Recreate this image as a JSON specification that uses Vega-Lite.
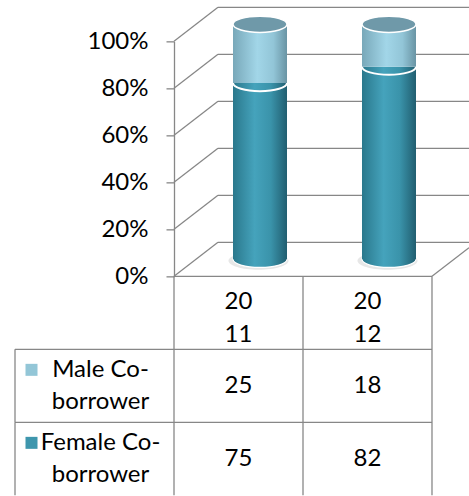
{
  "$schema": "https://vega.github.io/schema/vega-lite/v6.json",
  "autosize": {"type": "pad"},
  "padding": {"left": 14, "top": 6.35, "right": 0, "bottom": 0},
  "background": "white",
  "config": {
    "view": {"stroke": null},
    "font": "Lato",
    "text": {"font": "Lato", "fontSize": 24, "color": "#000000"}
  },
  "datasets": {
    "shares": [
      {"year": "2011", "series": "Male Co-borrower", "value": 25},
      {"year": "2011", "series": "Female Co-borrower", "value": 75},
      {"year": "2012", "series": "Male Co-borrower", "value": 18},
      {"year": "2012", "series": "Female Co-borrower", "value": 82}
    ],
    "levels": [{"pct": 0}, {"pct": 20}, {"pct": 40}, {"pct": 60}, {"pct": 80}, {"pct": 100}]
  },
  "columns": 2,
  "spacing": 0,
  "bounds": "flush",
  "concat": [
    {
      "width": 159,
      "height": 235,
      "data": {"values": [{}]},
      "mark": {"type": "text", "text": ""}
    },
    {
      "width": 258,
      "height": 235,
      "layer": [
        {
          "data": {"name": "levels"},
          "mark": {"type": "rule", "color": "#878787", "strokeWidth": 1.3, "xOffset": 44, "x2Offset": 37, "yOffset": -34},
          "encoding": {
            "y": {
              "field": "pct", "type": "quantitative",
              "scale": {"domain": [0, 100], "nice": false},
              "axis": {
                "values": [0, 20, 40, 60, 80, 100],
                "labelExpr": "datum.value + '%'",
                "title": null, "grid": false,
                "domain": true, "domainColor": "#878787", "domainWidth": 1.3,
                "ticks": true, "tickColor": "#878787", "tickWidth": 1.3, "tickSize": 8,
                "labelPadding": 18, "labelFont": "Lato", "labelFontSize": 24, "labelColor": "#000000"
              }
            },
            "x": {"datum": "2011", "type": "nominal", "bandPosition": 0,
                  "scale": {"type": "band", "domain": ["2011", "2012"], "paddingInner": 0, "paddingOuter": 0},
                  "axis": null},
            "x2": {"datum": "2012", "bandPosition": 1}
          }
        },
        {
          "data": {"name": "levels"},
          "mark": {"type": "rule", "color": "#878787", "strokeWidth": 1.3, "x2Offset": 44, "y2Offset": -34},
          "encoding": {
            "y": {"field": "pct", "type": "quantitative"},
            "y2": {"field": "pct"},
            "x": {"datum": "2011", "type": "nominal", "bandPosition": 0},
            "x2": {"datum": "2011", "bandPosition": 0}
          }
        },
        {
          "data": {"name": "levels"},
          "transform": [{"filter": "datum.pct == 0"}],
          "mark": {"type": "rule", "color": "#878787", "strokeWidth": 1.3, "x2Offset": 37, "y2Offset": -28.6},
          "encoding": {
            "y": {"field": "pct", "type": "quantitative"},
            "y2": {"field": "pct"},
            "x": {"datum": "2012", "type": "nominal", "bandPosition": 1},
            "x2": {"datum": "2012", "bandPosition": 1}
          }
        },
        {
          "data": {"name": "levels"},
          "transform": [{"filter": "datum.pct == 0"}],
          "mark": {"type": "rule", "color": "#878787", "strokeWidth": 1.3},
          "encoding": {
            "y": {"field": "pct", "type": "quantitative"},
            "x": {"datum": "2011", "type": "nominal", "bandPosition": 0},
            "x2": {"datum": "2012", "bandPosition": 1}
          }
        },
        {
          "data": {"name": "shares"},
          "transform": [
            {"stack": "value", "groupby": ["year"], "sort": [{"field": "series", "order": "ascending"}], "as": ["lo", "hi"]},
            {"filter": "datum.series == 'Female Co-borrower'"}
          ],
          "layer": [
            {
              "mark": {"type": "point", "shape": "M -1 0 C -1 -0.166 -0.552 -0.3 0 -0.3 C 0.552 -0.3 1 -0.166 1 0 C 1 0.166 0.552 0.3 0 0.3 C -0.552 0.3 -1 0.166 -1 0 Z",
                       "filled": true, "fill": "#a0a0a0", "opacity": 0.25, "size": 3600, "xOffset": 20, "yOffset": -15.5},
              "encoding": {
                "x": {"field": "year", "type": "nominal"},
                "y": {"field": "lo", "type": "quantitative"}
              }
            },
            {
              "mark": {"type": "point", "shape": "M -1 0 C -1 -0.166 -0.552 -0.3 0 -0.3 C 0.552 -0.3 1 -0.166 1 0 C 1 0.166 0.552 0.3 0 0.3 C -0.552 0.3 -1 0.166 -1 0 Z",
                       "filled": true, "opacity": 1, "size": 2916, "xOffset": 21.5, "yOffset": -17,
                       "stroke": "#ffffff", "strokeWidth": 1.2,
                       "fill": {"gradient": "linear", "x1": 0, "y1": 0, "x2": 1, "y2": 0,
                                "stops": [{"offset": 0, "color": "#2a788c"}, {"offset": 0.4, "color": "#45a3bc"}, {"offset": 0.7, "color": "#3a93aa"}, {"offset": 1, "color": "#215e70"}]}},
              "encoding": {
                "x": {"field": "year", "type": "nominal"},
                "y": {"field": "lo", "type": "quantitative"}
              }
            },
            {
              "mark": {"type": "bar", "size": 54, "xOffset": 21.5, "yOffset": -17, "y2Offset": -17,
                       "fill": {"gradient": "linear", "x1": 0, "y1": 0, "x2": 1, "y2": 0,
                                "stops": [{"offset": 0, "color": "#2a788c"}, {"offset": 0.4, "color": "#45a3bc"}, {"offset": 0.7, "color": "#3a93aa"}, {"offset": 1, "color": "#215e70"}]}},
              "encoding": {
                "x": {"field": "year", "type": "nominal"},
                "y": {"field": "lo", "type": "quantitative"},
                "y2": {"field": "hi"}
              }
            }
          ]
        },
        {
          "data": {"name": "shares"},
          "transform": [
            {"stack": "value", "groupby": ["year"], "sort": [{"field": "series", "order": "ascending"}], "as": ["lo", "hi"]},
            {"filter": "datum.series == 'Male Co-borrower'"}
          ],
          "layer": [
            {
              "mark": {"type": "bar", "size": 54, "xOffset": 21.5, "yOffset": -17, "y2Offset": -17,
                       "fill": {"gradient": "linear", "x1": 0, "y1": 0, "x2": 1, "y2": 0,
                                "stops": [{"offset": 0, "color": "#78a8b9"}, {"offset": 0.45, "color": "#a2d6e8"}, {"offset": 0.75, "color": "#92c5d7"}, {"offset": 1, "color": "#6994a4"}]}},
              "encoding": {
                "x": {"field": "year", "type": "nominal"},
                "y": {"field": "lo", "type": "quantitative"},
                "y2": {"field": "hi"}
              }
            },
            {
              "mark": {"type": "point", "shape": "M -1 0 C -1 0.166 -0.552 0.3 0 0.3 C 0.552 0.3 1 0.166 1 0",
                       "filled": false, "stroke": "#ffffff", "strokeWidth": 2, "opacity": 1, "size": 2916, "xOffset": 21.5, "yOffset": -17},
              "encoding": {
                "x": {"field": "year", "type": "nominal"},
                "y": {"field": "lo", "type": "quantitative"}
              }
            },
            {
              "mark": {"type": "point", "shape": "M -1 0 C -1 -0.166 -0.552 -0.3 0 -0.3 C 0.552 -0.3 1 -0.166 1 0 C 1 0.166 0.552 0.3 0 0.3 C -0.552 0.3 -1 0.166 -1 0 Z",
                       "filled": true, "fill": "#6f99a9", "stroke": "#ffffff", "strokeWidth": 1.5, "opacity": 1, "size": 2916, "xOffset": 21.5, "yOffset": -17},
              "encoding": {
                "x": {"field": "year", "type": "nominal"},
                "y": {"field": "hi", "type": "quantitative"}
              }
            }
          ]
        }
      ]
    },
    {
      "width": 159,
      "height": 219,
      "data": {"name": "shares"},
      "transform": [{"filter": "datum.year == '2011'"}],
      "layer": [
        {
          "mark": {"type": "rule", "color": "#878787", "strokeWidth": 1.3},
          "encoding": {
            "y": {"field": "series", "type": "nominal", "bandPosition": 0,
                  "scale": {"type": "band", "domain": ["Year", "Male Co-borrower", "Female Co-borrower"], "paddingInner": 0, "paddingOuter": 0},
                  "axis": null}
          }
        },
        {
          "mark": {"type": "rule", "color": "#878787", "strokeWidth": 1.3},
          "encoding": {
            "x": {"value": 0},
            "y": {"field": "series", "type": "nominal", "bandPosition": 0},
            "y2": {"field": "series", "bandPosition": 1}
          }
        },
        {
          "mark": {"type": "point", "shape": "square", "filled": true, "opacity": 1, "size": 144, "xOffset": -63, "yOffset": -16},
          "encoding": {
            "y": {"field": "series", "type": "nominal"},
            "color": {"field": "series", "type": "nominal",
                      "scale": {"domain": ["Male Co-borrower", "Female Co-borrower"], "range": ["#93c6d7", "#3e96ad"]},
                      "legend": null}
          }
        },
        {
          "mark": {"type": "text", "align": "center", "baseline": "middle", "lineHeight": 32, "xOffset": 6, "yOffset": -16,
                   "text": {"expr": "[slice(datum.series, 0, indexof(datum.series, '-') + 1), slice(datum.series, indexof(datum.series, '-') + 1)]"}},
          "encoding": {
            "y": {"field": "series", "type": "nominal"}
          }
        }
      ]
    },
    {
      "width": 258,
      "height": 219,
      "data": {"name": "shares"},
      "layer": [
        {
          "transform": [{"filter": "datum.series == 'Male Co-borrower'"}],
          "mark": {"type": "rule", "color": "#878787", "strokeWidth": 1.3},
          "encoding": {
            "x": {"field": "year", "type": "nominal", "bandPosition": 0,
                  "scale": {"type": "band", "domain": ["2011", "2012"], "paddingInner": 0, "paddingOuter": 0},
                  "axis": null}
          }
        },
        {
          "transform": [{"filter": "datum.series == 'Male Co-borrower' && datum.year == '2012'"}],
          "mark": {"type": "rule", "color": "#878787", "strokeWidth": 1.3},
          "encoding": {
            "x": {"field": "year", "type": "nominal", "bandPosition": 1}
          }
        },
        {
          "transform": [{"filter": "datum.year == '2011'"}],
          "mark": {"type": "rule", "color": "#878787", "strokeWidth": 1.3},
          "encoding": {
            "y": {"field": "series", "type": "nominal", "bandPosition": 0,
                  "scale": {"type": "band", "domain": ["Year", "Male Co-borrower", "Female Co-borrower"], "paddingInner": 0, "paddingOuter": 0},
                  "axis": null}
          }
        },
        {
          "transform": [{"filter": "datum.series == 'Male Co-borrower'"}],
          "mark": {"type": "text", "align": "center", "baseline": "middle", "lineHeight": 33, "yOffset": -11,
                   "text": {"expr": "[slice(datum.year, 0, 2), slice(datum.year, 2)]"}},
          "encoding": {
            "x": {"field": "year", "type": "nominal"},
            "y": {"datum": "Year", "type": "nominal"}
          }
        },
        {
          "mark": {"type": "text", "align": "center", "baseline": "middle"},
          "encoding": {
            "x": {"field": "year", "type": "nominal"},
            "y": {"field": "series", "type": "nominal"},
            "text": {"field": "value", "type": "quantitative"}
          }
        }
      ]
    }
  ]
}
